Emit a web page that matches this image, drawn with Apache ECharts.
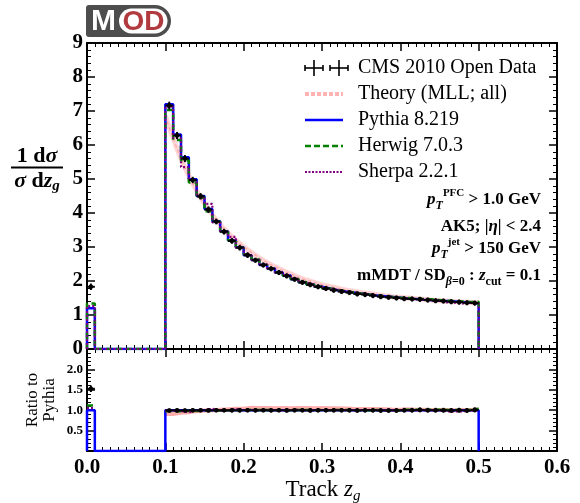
<!DOCTYPE html>
<html><head><meta charset="utf-8">
<script src="https://cdn.jsdelivr.net/npm/echarts@6/dist/echarts.min.js"></script>
<style>html,body{margin:0;padding:0;background:#fff}#c{width:580px;height:503px}</style>
</head><body><div id="c"></div>
<script>
// ---------- data ----------
const binEdges = [0.00,0.01,0.02,0.03,0.04,0.05,0.06,0.07,0.08,0.09,
  0.10,0.11,0.12,0.13,0.14,0.15,0.16,0.17,0.18,0.19,
  0.20,0.21,0.22,0.23,0.24,0.25,0.26,0.27,0.28,0.29,
  0.30,0.31,0.32,0.33,0.34,0.35,0.36,0.37,0.38,0.39,
  0.40,0.41,0.42,0.43,0.44,0.45,0.46,0.47,0.48,0.49,0.50];
const pythia = [1.20, 0,0,0,0,0,0,0,0,0,
  7.20,6.31,5.64,4.99,4.50,4.12,3.76,3.46,3.19,2.99,
  2.76,2.62,2.47,2.37,2.25,2.16,2.05,1.96,1.90,1.83,
  1.78,1.73,1.69,1.66,1.63,1.60,1.57,1.55,1.53,1.51,
  1.48,1.47,1.45,1.44,1.42,1.41,1.40,1.38,1.37,1.34];
const herwig = [1.34, 0,0,0,0,0,0,0,0,0,
  7.03,6.15,5.55,4.90,4.45,4.05,3.74,3.45,3.20,2.98,
  2.79,2.63,2.48,2.37,2.26,2.16,2.06,1.97,1.90,1.84,
  1.78,1.74,1.70,1.67,1.63,1.60,1.58,1.55,1.53,1.51,
  1.50,1.49,1.47,1.46,1.44,1.42,1.41,1.40,1.38,1.39];
const sherpa = [1.26, 0,0,0,0,0,0,0,0,0,
  7.12,6.20,5.35,4.97,4.48,4.27,3.72,3.44,3.30,2.97,
  2.78,2.62,2.49,2.36,2.24,2.17,2.07,1.95,1.90,1.84,
  1.77,1.74,1.69,1.66,1.63,1.61,1.57,1.54,1.53,1.51,
  1.48,1.47,1.45,1.44,1.42,1.37,1.36,1.34,1.36,1.34];
const cmsData = [1.83, null,null,null,null,null,null,null,null,null,
  7.16,6.28,5.60,4.97,4.49,4.10,3.75,3.45,3.18,2.98,
  2.76,2.61,2.47,2.36,2.25,2.15,2.05,1.96,1.89,1.83,
  1.78,1.73,1.69,1.66,1.62,1.60,1.57,1.54,1.52,1.50,
  1.48,1.47,1.46,1.44,1.42,1.41,1.39,1.38,1.36,1.35];
const cmsErr = [0.05, null,null,null,null,null,null,null,null,null,
  0.07,0.06,0.06,0.05,0.05,0.05,0.04,0.04,0.04,0.04,
  0.04,0.03,0.03,0.03,0.03,0.03,0.03,0.03,0.03,0.03,
  0.03,0.03,0.03,0.03,0.03,0.03,0.03,0.03,0.03,0.03,
  0.03,0.03,0.03,0.03,0.03,0.03,0.03,0.03,0.03,0.03];
// theory curve values at bin edges 0.10 ... 0.50
const theoryEdges = [0.10,0.11,0.12,0.13,0.14,0.15,0.16,0.17,0.18,0.19,
  0.20,0.21,0.22,0.23,0.24,0.25,0.26,0.27,0.28,0.29,
  0.30,0.31,0.32,0.33,0.34,0.35,0.36,0.37,0.38,0.39,
  0.40,0.41,0.42,0.43,0.44,0.45,0.46,0.47,0.48,0.49,0.50];
const theory = [6.85,6.20,5.60,5.10,4.65,4.28,3.95,3.66,3.42,3.20,
  3.01,2.84,2.68,2.54,2.42,2.31,2.21,2.11,2.03,1.96,
  1.89,1.84,1.79,1.74,1.70,1.66,1.63,1.60,1.57,1.54,
  1.52,1.50,1.48,1.46,1.44,1.42,1.41,1.39,1.38,1.37,1.36];
const xTicks = [0.0,0.1,0.2,0.3,0.4,0.5,0.6];
const legendNames = ['CMS 2010 Open Data','Theory (MLL; all)','Pythia 8.219','Herwig 7.0.3','Sherpa 2.2.1'];

// ---------- helpers ----------
function stepFull(vals){
  const pts = [[binEdges[0], 0]];
  for (let i = 0; i < vals.length; i++){
    pts.push([binEdges[i], vals[i]]); pts.push([binEdges[i+1], vals[i]]);
  }
  pts.push([binEdges[vals.length], 0]);
  return pts;
}
function stepBroken(vals){
  const pts = [];
  for (let i = 0; i < vals.length; i++){
    if (vals[i] == null){ pts.push([binEdges[i], '-']); continue; }
    pts.push([binEdges[i], vals[i]]); pts.push([binEdges[i+1], vals[i]]);
  }
  return pts;
}
function ratioOf(vals){
  return vals.map((v,i)=> (pythia[i] > 0 && v != null) ? v / pythia[i] : null);
}
const theoryBins = pythia.map((p,i)=>{
  const k = theoryEdges.indexOf(binEdges[i]);
  return k >= 0 && k+1 < theory.length ? (theory[k] + theory[k+1]) / 2 : null;
});
function errPoints(vals, errs){
  const out = [];
  vals.forEach((v,i)=>{ if (v != null) out.push([(binEdges[i]+binEdges[i+1])/2, v, binEdges[i], binEdges[i+1], errs[i]]); });
  return out;
}
function errRender(params, api){
  const c = api.value(0), v = api.value(1), lo = api.value(2), hi = api.value(3), e = api.value(4);
  const p = api.coord([c, v]), pl = api.coord([lo, v]), ph = api.coord([hi, v]);
  const pt = api.coord([c, v + e]), pb = api.coord([c, v - e]);
  const st = {stroke:'#000', lineWidth:2};
  return {type:'group', children:[
    {type:'line', shape:{x1:pl[0], y1:pl[1], x2:ph[0], y2:ph[1]}, style:st},
    {type:'line', shape:{x1:pt[0], y1:pt[1]-1.5, x2:pb[0], y2:pb[1]+1.5}, style:st},
    {type:'circle', shape:{cx:p[0], cy:p[1], r:2.3}, style:{fill:'#000'}}
  ]};
}
const SERIF = 'Liberation Serif';
function xAx(grid, pos, showLabel){
  return {type:'value', gridIndex:grid, position:pos, min:0, max:0.6, interval:0.1,
    axisLine:{show:true, onZero:false, lineStyle:{color:'#000', width:2}},
    axisTick:{show:true, inside:true, length:8, lineStyle:{color:'#000', width:1.5}},
    minorTick:{show:true, splitNumber:10, length:4, lineStyle:{color:'#000', width:1}},
    splitLine:{show:false}, minorSplitLine:{show:false},
    axisLabel:{show:showLabel, formatter:v=>v.toFixed(1), fontFamily:SERIF, fontWeight:'bold', fontSize:21, color:'#000', margin:6}};
}
function yAx(grid, pos, min, max, interval, showLabel, fmt, fs, split){
  return {type:'value', gridIndex:grid, position:pos, min:min, max:max, interval:interval,
    axisLine:{show:true, onZero:false, lineStyle:{color:'#000', width:2}},
    axisTick:{show:true, inside:true, length:8, lineStyle:{color:'#000', width:1.5}},
    minorTick:{show:true, splitNumber:split, length:4, lineStyle:{color:'#000', width:1}},
    splitLine:{show:false}, minorSplitLine:{show:false},
    axisLabel:{show:showLabel, formatter:fmt, fontFamily:SERIF, fontWeight:'bold', fontSize:fs, color:'#000', margin:4}};
}

const BLUE = '#0000ff', GREEN = '#008000', PURPLE = '#800080';
const lineS = (name, data, xi, yi, color, width, type, z, extra) => Object.assign({
  name, type:'line', xAxisIndex:xi, yAxisIndex:yi, data, showSymbol:false, symbol:'none',
  lineStyle:{color, width, type}, z, animation:false, connectNulls:false, silent:true
}, extra || {});

const theoryPts = theoryEdges.map((x,i)=>[x, theory[i]]);
const series = [
  lineS('Theory band', theoryPts, 0, 0, 'rgba(255,160,160,0.45)', 5, 'solid', 1, {smooth:true}),
  lineS('Theory', theoryPts, 0, 0, 'rgba(255,130,130,0.6)', 1.2, [3,3], 1, {smooth:true}),
  lineS('Pythia', stepFull(pythia), 0, 0, BLUE, 2.5, 'solid', 2),
  lineS('Herwig', stepFull(herwig), 0, 0, GREEN, 2.5, [6,4], 3),
  lineS('Sherpa', stepFull(sherpa), 0, 0, PURPLE, 2.2, [2,2], 4),
  {name:'Data', type:'custom', xAxisIndex:0, yAxisIndex:0, renderItem:errRender,
   data:errPoints(cmsData, cmsErr), encode:{x:0, y:1}, z:5, animation:false, silent:true},
  // ratio panel
  lineS('Theory r band', stepBroken(ratioOf(theoryBins)), 2, 2, 'rgba(255,90,90,0.5)', 4, 'solid', 1),
  lineS('Pythia r', stepFull(pythia.map(v=> v > 0 ? 1 : 0)), 2, 2, BLUE, 2.5, 'solid', 2),
  lineS('Herwig r', stepBroken(ratioOf(herwig)), 2, 2, GREEN, 2.5, [6,4], 3),
  lineS('Sherpa r', stepBroken(ratioOf(sherpa)), 2, 2, PURPLE, 2.2, [2,2], 4),
  {name:'Data r', type:'custom', xAxisIndex:2, yAxisIndex:2, renderItem:errRender,
   data:errPoints(ratioOf(cmsData), cmsErr.map((e,i)=> (e != null && pythia[i] > 0) ? e / pythia[i] : null)),
   encode:{x:0, y:1}, z:5, animation:false, silent:true}
];

// ---------- graphics: legend, labels, logo ----------
const G = [];
const legY = [68, 94, 120, 146, 172];
const legText = (t, y) => ({type:'text', x:358, y:y, style:{text:t, font:'20px "' + SERIF + '"', fill:'#000', textAlign:'left', textVerticalAlign:'middle', align:'left', verticalAlign:'middle'}, z:10});
legendNames.forEach((n,i)=> G.push(legText(n, legY[i])));
// data cross icons
[314, 339].forEach(cx=>{
  const cy = legY[0];
  G.push({type:'line', shape:{x1:cx-9, y1:cy, x2:cx+9, y2:cy}, style:{stroke:'#000', lineWidth:1.6}, z:10});
  G.push({type:'line', shape:{x1:cx, y1:cy-8, x2:cx, y2:cy+8}, style:{stroke:'#000', lineWidth:1.6}, z:10});
  G.push({type:'line', shape:{x1:cx-9, y1:cy-3, x2:cx-9, y2:cy+3}, style:{stroke:'#000', lineWidth:1.6}, z:10});
  G.push({type:'line', shape:{x1:cx+9, y1:cy-3, x2:cx+9, y2:cy+3}, style:{stroke:'#000', lineWidth:1.6}, z:10});
});
const legLine = (y, color, w, dash) => ({type:'line', shape:{x1:305, y1:y, x2:343, y2:y}, style:{stroke:color, lineWidth:w, lineDash:dash}, z:10});
G.push(legLine(legY[1], 'rgba(255,170,170,0.9)', 4, [4,2]));
G.push(legLine(legY[2], BLUE, 2.5, null));
G.push(legLine(legY[3], GREEN, 2.5, [6,3]));
G.push(legLine(legY[4], PURPLE, 2.2, [2,1.5]));

// annotations
const richA = {
  n:{fontFamily:SERIF, fontWeight:'bold', fontSize:17, lineHeight:24, verticalAlign:'middle', fill:'#000'},
  i:{fontFamily:SERIF, fontWeight:'bold', fontStyle:'italic', fontSize:17, lineHeight:24, verticalAlign:'middle', fill:'#000'},
  sub:{fontFamily:SERIF, fontWeight:'bold', fontStyle:'italic', fontSize:12, lineHeight:24, verticalAlign:'bottom', fill:'#000'},
  subn:{fontFamily:SERIF, fontWeight:'bold', fontSize:12, lineHeight:24, verticalAlign:'bottom', fill:'#000'},
  sup:{fontFamily:SERIF, fontWeight:'bold', fontSize:11, lineHeight:24, verticalAlign:'top', fill:'#000'}
};
const annot = (t, y) => ({type:'text', x:541, y:y, style:{text:t, rich:richA, textAlign:'right', align:'right', textVerticalAlign:'middle', verticalAlign:'middle'}, z:10});
G.push(annot('{i|p}{sub|T}{sup|PFC}{n| > 1.0 GeV}', 200));
G.push(annot('{n|AK5; |}{i|η}{n|| < 2.4}', 227));
G.push(annot('{i|p}{sub|T}{sup|jet}{n| > 150 GeV}', 249));
G.push(annot('{n|mMDT / SD}{sub|β}{subn|=0}{n| : }{i|z}{subn|cut}{n| = 0.1}', 276));

// y axis title (fraction)
const richY = {
  b:{fontFamily:SERIF, fontWeight:'bold', fontSize:22, fill:'#000', lineHeight:26, verticalAlign:'middle'},
  bi:{fontFamily:SERIF, fontWeight:'bold', fontStyle:'italic', fontSize:22, fill:'#000', lineHeight:26, verticalAlign:'middle'},
  s:{fontFamily:SERIF, fontWeight:'bold', fontStyle:'italic', fontSize:15, fill:'#000', lineHeight:26, verticalAlign:'bottom'}
};
G.push({type:'text', x:37, y:156, style:{text:'{b|1 d}{bi|σ}', rich:richY, textAlign:'center', align:'center', textVerticalAlign:'middle', verticalAlign:'middle'}, z:10});
G.push({type:'line', shape:{x1:11, y1:167.5, x2:63, y2:167.5}, style:{stroke:'#000', lineWidth:2}, z:10});
G.push({type:'text', x:37, y:181, style:{text:'{bi|σ}{b| d}{bi|z}{s|g}', rich:richY, textAlign:'center', align:'center', textVerticalAlign:'middle', verticalAlign:'middle'}, z:10});

// ratio label
G.push({type:'text', x:41, y:400, rotation:Math.PI/2, style:{text:'Ratio to\nPythia', font:'17px "' + SERIF + '"', lineHeight:17, fill:'#000', textAlign:'center', align:'center', textVerticalAlign:'middle', verticalAlign:'middle'}, z:10});

// x axis title
const richX = {
  n:{fontFamily:SERIF, fontSize:23, fill:'#000', lineHeight:28, verticalAlign:'middle'},
  i:{fontFamily:SERIF, fontStyle:'italic', fontSize:23, fill:'#000', lineHeight:28, verticalAlign:'middle'},
  s:{fontFamily:SERIF, fontStyle:'italic', fontSize:15, fill:'#000', lineHeight:28, verticalAlign:'bottom'}
};
G.push({type:'text', x:323, y:490, style:{text:'{n|Track }{i|z}{s|g}', rich:richX, textAlign:'center', align:'center', textVerticalAlign:'middle', verticalAlign:'middle'}, z:10});

// MOD logo
G.push({type:'rect', shape:{x:86, y:5, width:85, height:32, r:[3,16,16,3]}, style:{fill:'#4d4d4d'}, z:10});
G.push({type:'rect', shape:{x:119, y:8.5, width:48.5, height:25, r:12.5}, style:{fill:'#ffffff'}, z:11});
G.push({type:'text', x:103.5, y:22, style:{text:'M', font:'bold 30px "Liberation Sans"', fill:'#ffffff', textAlign:'center', align:'center', textVerticalAlign:'middle', verticalAlign:'middle'}, z:12});
G.push({type:'text', x:143.5, y:22, style:{text:'OD', font:'bold 28px "Liberation Sans"', fill:'#b03a3e', textAlign:'center', align:'center', textVerticalAlign:'middle', verticalAlign:'middle'}, z:12});

const chart = echarts.init(document.getElementById('c'), null, {renderer:'canvas'});
chart.setOption({
  animation:false,
  backgroundColor:'#fff',
  grid:[
    {left:87, top:43, width:470, height:306},
    {left:87, top:349, width:470, height:102}
  ],
  xAxis:[
    xAx(0, 'bottom', false), xAx(0, 'top', false),
    xAx(1, 'bottom', true), xAx(1, 'top', false)
  ],
  yAxis:[
    yAx(0, 'left', 0, 9, 1, true, v=>String(v), 21, 5),
    yAx(0, 'right', 0, 9, 1, false, v=>String(v), 21, 5),
    yAx(1, 'left', 0, 2.5, 0.5, true, v=> (v > 0.01 && v < 2.4) ? v.toFixed(1) : '', 13, 5),
    yAx(1, 'right', 0, 2.5, 0.5, false, v=>'', 13, 5)
  ],
  series: series,
  graphic: G
});
</script>
</body></html>
